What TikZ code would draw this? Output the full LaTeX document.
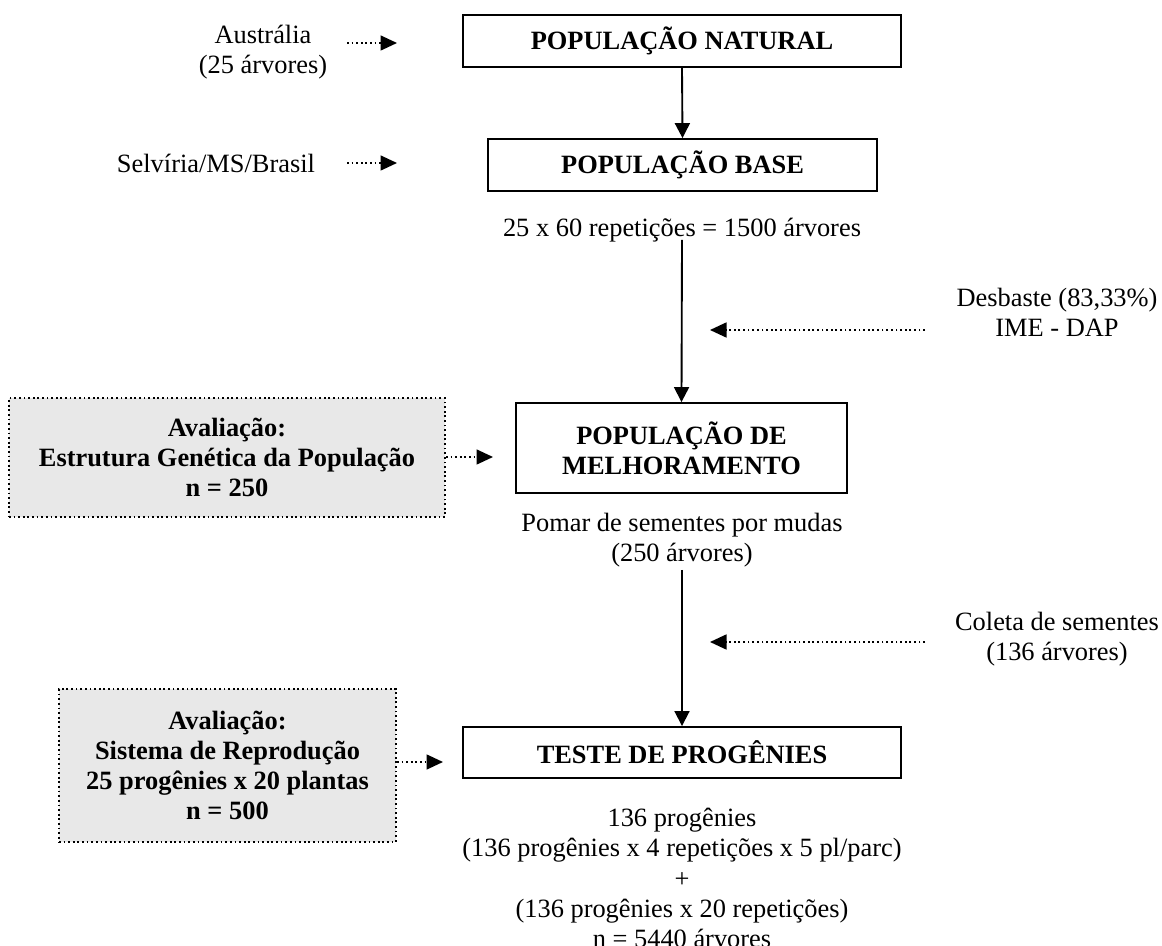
\documentclass[tikz,border=0pt]{standalone}
\usepackage{fontspec}
\setmainfont{Liberation Serif}
\usetikzlibrary{arrows.meta}
\definecolor{boxgray}{RGB}{232,232,232}
\begin{document}
\begin{tikzpicture}[x=0.45455pt,y=-0.45455pt,
  every node/.style={font=\fontsize{12}{13.7}\selectfont, inner sep=0pt, align=center},
  box/.style={draw, line width=0.85pt, font=\fontsize{12}{13.7}\selectfont\bfseries},
  evalbox/.style={draw, fill=boxgray, line width=0.8pt, dash pattern=on 0.8pt off 1.3pt, font=\fontsize{12}{13.7}\selectfont\bfseries},
  solidarrow/.style={line width=0.85pt, -{Triangle[length=6.8pt,width=6.8pt]}},
  dotarrow/.style={line width=0.8pt, dash pattern=on 0.8pt off 1.3pt, -{Triangle[length=7.5pt,width=6.8pt]}}
]
\useasboundingbox[fill=white] (0,0) rectangle (1162,946);

% main boxes
\node[box, minimum width=199.1pt, minimum height=23.6pt] (nat) at (682,41) {POPULAÇÃO NATURAL};
\node[box, minimum width=176.8pt, minimum height=23.6pt] (base) at (682.5,165) {POPULAÇÃO BASE};
\node[box, minimum width=150.5pt, minimum height=40.9pt] (mel) at (681.5,448) {POPULAÇÃO DE\\MELHORAMENTO};
\node[box, minimum width=199.1pt, minimum height=23.2pt] (teste) at (682,752.5) {TESTE DE PROGÊNIES};

% evaluation boxes
\node[evalbox, minimum width=198.2pt, minimum height=54.1pt] (av1) at (227,457.5) {Avaliação:\\Estrutura Genética da População\\n = 250};
\node[evalbox, minimum width=153.2pt, minimum height=69.5pt] (av2) at (227.5,765.5) {Avaliação:\\Sistema de Reprodução\\25 progênies x 20 plantas\\n = 500};

% side texts
\node (aus) at (263,52) {Austrália\\(25 árvores)};
\node (sel) at (216,163) {Selvíria/MS/Brasil};
\node (rep) at (682,230) {25 x 60 repetições = 1500 árvores};
\node (des) at (1057,312) {Desbaste (83,33\%)\\IME - DAP};
\node (pom) at (682,540) {Pomar de sementes por mudas\\(250 árvores)};
\node (col) at (1057,639) {Coleta de sementes\\(136 árvores)};
\node (fin) at (682,878) {136 progênies\\(136 progênies x 4 repetições x 5 pl/parc)\\+\\(136 progênies x 20 repetições)\\n = 5440 árvores};

% free ends
\coordinate (ausS) at (347,43);
\coordinate (ausE) at (397,43);
\coordinate (selS) at (347,163);
\coordinate (selE) at (397,163);
\coordinate (repS) at (682,240);
\coordinate (desS) at (925,330);
\coordinate (desE) at (710,330);
\coordinate (av1S) at (446,457);
\coordinate (av1E) at (493,457);
\coordinate (pomS) at (682,570);
\coordinate (colS) at (925,642);
\coordinate (colE) at (710,642);
\coordinate (av2S) at (397,762);
\coordinate (av2E) at (443,762);

% connectors
\draw[dotarrow] (ausS) -- (ausE);
\draw[dotarrow] (selS) -- (selE);
\draw[solidarrow] (nat.south) -- (base.north);
\draw[solidarrow] (repS) -- (mel.north);
\draw[dotarrow] (desS) -- (desE);
\draw[dotarrow] (av1S) -- (av1E);
\draw[solidarrow] (pomS) -- (teste.north);
\draw[dotarrow] (colS) -- (colE);
\draw[dotarrow] (av2S) -- (av2E);
\end{tikzpicture}
\end{document}
